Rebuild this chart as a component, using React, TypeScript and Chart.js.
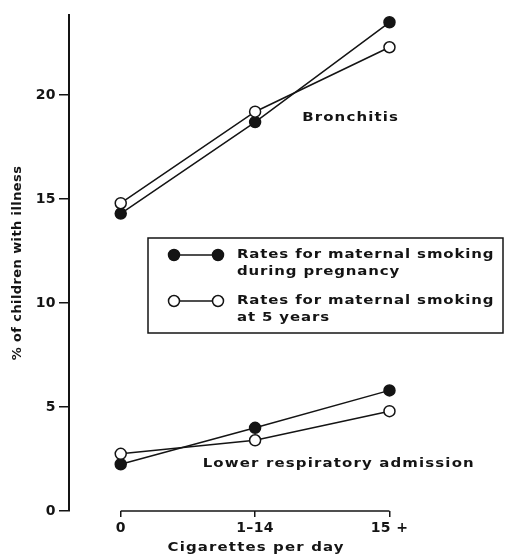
import { useEffect, useRef } from "react";
import { Chart, registerables } from "chart.js";

Chart.register(...registerables);

// ---- data ----
const categories = ["0", "1–14", "15 +"];
const bronchitisPregnancy = [14.3, 18.7, 23.5];
const bronchitisFiveYears = [14.8, 19.2, 22.3];
const lowerRespPregnancy = [2.25, 4.0, 5.8];
const lowerRespFiveYears = [2.75, 3.4, 4.8];
const yTicks = [0, 5, 10, 15, 20];
const yTitle = "% of children with illness";
const xTitle = "Cigarettes per day";
const legendTexts = [
  ["Rates for maternal smoking", "during pregnancy"],
  ["Rates for maternal smoking", "at 5 years"],
];
const annotationTexts = ["Bronchitis", "Lower respiratory admission"];
const annotationAnchors = [
  { x: 1.35, y: 18.9 },
  { x: 0.61, y: 2.26 },
];

const INK = "#141414";
const FONT = "'DejaVu Sans', sans-serif";
const STRETCH = 1.15;

const toPoints = (vals: number[]) => vals.map((v, i) => ({ x: i, y: v }));

const lineStyle = (filled: boolean) => ({
  borderColor: INK,
  borderWidth: 1.5,
  backgroundColor: filled ? INK : "#ffffff",
  pointBackgroundColor: filled ? INK : "#ffffff",
  pointBorderColor: INK,
  pointBorderWidth: 1.5,
  pointRadius: 5.5,
  pointHoverRadius: 5.5,
  fill: false,
  tension: 0,
});

const letterSpacingPlugin = {
  id: "letterSpacingPlugin",
  beforeDraw(chart: any) {
    chart.ctx.letterSpacing = "0.4px";
  },
};

function wideText(ctx: CanvasRenderingContext2D, text: string, x: number, y: number, spacing: number) {
  ctx.save();
  (ctx as any).letterSpacing = `${spacing}px`;
  ctx.translate(x, y);
  ctx.scale(STRETCH, 1);
  ctx.fillText(text, 0, 0);
  ctx.restore();
}

const decorPlugin = {
  id: "decorPlugin",
  afterDraw(chart: any) {
    const { ctx, chartArea, scales } = chart;
    const xs = scales.x;
    const ys = scales.y;
    ctx.save();
    ctx.strokeStyle = INK;
    ctx.fillStyle = INK;

    // detached x axis line spanning the categories
    ctx.lineWidth = 1.5;
    ctx.beginPath();
    ctx.moveTo(xs.getPixelForValue(0), chartArea.bottom);
    ctx.lineTo(xs.getPixelForValue(categories.length - 1), chartArea.bottom);
    ctx.stroke();

    ctx.font = `bold 13px ${FONT}`;
    ctx.textBaseline = "middle";

    // x title
    ctx.textAlign = "center";
    wideText(ctx, xTitle, (xs.getPixelForValue(0) + xs.getPixelForValue(2)) / 2 + 1, 548, 1);

    // annotations
    ctx.textAlign = "left";
    annotationTexts.forEach((t, i) => {
      const a = annotationAnchors[i];
      wideText(ctx, t, xs.getPixelForValue(a.x), ys.getPixelForValue(a.y), 1);
    });

    // legend box
    const bx = 148, by = 238, bw = 355, bh = 95;
    ctx.lineWidth = 1.5;
    ctx.strokeRect(bx, by, bw, bh);
    const rows = [
      { y: 255, filled: true },
      { y: 301, filled: false },
    ];
    rows.forEach((r, i) => {
      const x1 = 174, x2 = 218;
      ctx.lineWidth = 1.5;
      ctx.beginPath();
      ctx.moveTo(x1, r.y);
      ctx.lineTo(x2, r.y);
      ctx.stroke();
      [x1, x2].forEach((cx) => {
        ctx.beginPath();
        ctx.arc(cx, r.y, 5.5, 0, Math.PI * 2);
        ctx.fillStyle = r.filled ? INK : "#ffffff";
        ctx.fill();
        ctx.stroke();
      });
      ctx.fillStyle = INK;
      legendTexts[i].forEach((line, j) => {
        wideText(ctx, line, 237, r.y + j * 16.5, 0.75);
      });
    });
    ctx.restore();
  },
};

export default function App() {
  const ref = useRef<HTMLCanvasElement | null>(null);

  useEffect(() => {
    if (!ref.current) return;
    const chart = new Chart(ref.current, {
      type: "line",
      data: {
        datasets: [
          { label: "Bronchitis – at 5 years", data: toPoints(bronchitisFiveYears), ...lineStyle(false) },
          { label: "Bronchitis – during pregnancy", data: toPoints(bronchitisPregnancy), ...lineStyle(true) },
          { label: "Lower respiratory – at 5 years", data: toPoints(lowerRespFiveYears), ...lineStyle(false) },
          { label: "Lower respiratory – during pregnancy", data: toPoints(lowerRespPregnancy), ...lineStyle(true) },
        ] as any,
      },
      options: {
        responsive: false,
        animation: false,
        layout: { padding: { top: 15, right: 4, left: 0, bottom: 0 } },
        plugins: {
          legend: { display: false },
          tooltip: { enabled: false },
        },
        scales: {
          x: {
            type: "linear",
            min: -0.385,
            max: 2.83,
            afterFit: (s: any) => {
              s.height = 45;
            },
            afterBuildTicks: (s: any) => {
              s.ticks = categories.map((_, i) => ({ value: i }));
            },
            grid: {
              display: true,
              drawOnChartArea: false,
              drawTicks: true,
              tickLength: 6,
              color: INK,
              lineWidth: 1.5,
            },
            border: { display: false },
            ticks: {
              color: INK,
              padding: 3,
              maxRotation: 0,
              font: { family: FONT, size: 14, weight: "bold" },
              callback: (v: any) => categories[Math.round(Number(v))] ?? "",
            },
          },
          y: {
            type: "linear",
            min: 0,
            max: 23.85,
            afterFit: (s: any) => {
              s.width = 69;
            },
            afterBuildTicks: (s: any) => {
              s.ticks = yTicks.map((v) => ({ value: v }));
            },
            grid: {
              display: true,
              drawOnChartArea: false,
              drawTicks: true,
              tickLength: 10,
              color: INK,
              lineWidth: 1.5,
            },
            border: { display: true, color: INK, width: 2 },
            ticks: {
              color: INK,
              padding: 3,
              font: { family: FONT, size: 14, weight: "bold" },
            },
            title: {
              display: true,
              text: yTitle,
              color: INK,
              padding: { top: 10, bottom: 0 },
              font: { family: FONT, size: 13, weight: "bold" },
            },
          },
        },
      },
      plugins: [letterSpacingPlugin, decorPlugin],
    });
    return () => chart.destroy();
  }, []);

  return (
    <div style={{ position: "absolute", left: 0, top: 0, width: 508, height: 556, background: "#fff" }}>
      <canvas ref={ref} width={508} height={556} />
    </div>
  );
}
